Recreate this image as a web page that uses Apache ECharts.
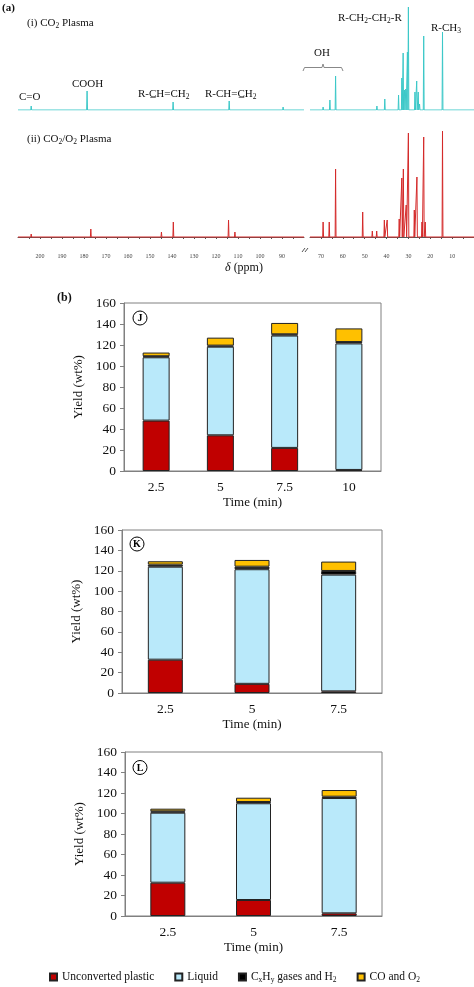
<!DOCTYPE html>
<html><head><meta charset="utf-8">
<script src="https://cdn.jsdelivr.net/npm/echarts@6/dist/echarts.min.js"></script>
<style>html,body{margin:0;padding:0;background:#fff}#c{width:474px;height:987px}</style>
</head><body><div id="c"></div>
<script>
// ---- (a) 13C NMR peaks: [ppm, relative intensity] ----
const spectrumI = [[204,4],[178.6,19],[139.5,8],[114,9],[89.5,3],[69,3],[65.9,10],[63.3,34],[44.4,4],[40.8,11],[34.5,15],[33.0,32],[32.4,57],[31.8,20],[31.2,21],[30.45,58],[30.0,103],[27.0,18],[26.2,29],[25.5,18],[24.9,6],[23.0,74],[14.4,78]];
const spectrumII = [[204,3],[176.9,8],[144.8,5],[139.4,15],[114.3,17],[111.4,5],[69,15],[66.2,15],[63.3,68],[50.9,25],[46.5,6],[44.5,6],[41,17],[39.7,17],[34.2,18],[33.0,59],[32.3,68],[31,32],[30.0,104],[27.3,27],[26.1,60],[23.8,15],[23.0,100],[22.3,15],[14.4,106]];
const ppmLeft = [80, 210];
const ppmRight = [0, 75];

// ---- (b) yields (wt%) ----
const timesJ = ['2.5','5','7.5','10'];
const J_unconverted = [48, 34, 22, 1];
const J_liquid = [60.3, 84.4, 107, 120.5];
const J_gas = [1, 1, 1.2, 1.3];
const J_co = [3.5, 7.6, 10.8, 13];

const timesK = ['2.5','5','7.5'];
const K_unconverted = [32.7, 9, 1.6];
const K_liquid = [91.3, 112.5, 114.6];
const K_gas = [2, 2.5, 3.6];
const K_co = [3.3, 6.6, 9.2];

const timesL = ['2.5','5','7.5'];
const L_unconverted = [32.5, 15.6, 2.6];
const L_liquid = [68.3, 94.4, 112.5];
const L_gas = [1.3, 1.2, 1.3];
const L_co = [2.6, 4.2, 6.5];

const seriesNames = ['Unconverted plastic','Liquid','CxHy gases and H2','CO and O2'];
const barColors = ['#C00000','#B9E9FA','#000000','#FFC000'];

const FF = 'Liberation Serif';
function spikes(peaks, lo, hi){
  const d=[[hi,0]];
  peaks.filter(p=>p[0]>lo&&p[0]<hi).sort((a,b)=>b[0]-a[0]).forEach(([x,h])=>{d.push([x+0.2,0],[x,h],[x-0.2,0]);});
  d.push([lo,0]);
  return d;
}

const grids = [
  {left:18, width:286, top:5, height:105},
  {left:310, width:164, top:5, height:105},
  {left:18, width:286, top:125, height:125},
  {left:310, width:164, top:125, height:125},
  {left:124, width:257, top:303, height:168, show:true, borderColor:'#808080', borderWidth:1},
  {left:122, width:260, top:530, height:163, show:true, borderColor:'#808080', borderWidth:1},
  {left:125, width:257, top:752, height:164, show:true, borderColor:'#808080', borderWidth:1}
];
function specX(gi, range, visible){
  const ax = {gridIndex:gi, type:'value', inverse:true, min:range[0], max:range[1], splitLine:{show:false}};
  if(!visible){ ax.show=false; return ax; }
  ax.interval=5;
  ax.axisLine={show:true, lineStyle:{color:'#555', width:1}};
  ax.axisTick={show:true, length:2, lineStyle:{color:'#555'}};
  ax.axisLabel={fontSize:6, color:'#444', margin:3, fontFamily:FF, showMinLabel:false, showMaxLabel:false, formatter:v=>(v%10===0?String(v):'')};
  return ax;
}
const xAxes = [specX(0,ppmLeft,false), specX(1,ppmRight,false), specX(2,ppmLeft,true), specX(3,ppmRight,true)];
const yAxes = [
  {gridIndex:0,type:'value',min:0,max:105,show:false},
  {gridIndex:1,type:'value',min:0,max:105,show:false},
  {gridIndex:2,type:'value',min:-13,max:112,show:false},
  {gridIndex:3,type:'value',min:-13,max:112,show:false}
];
const series = [
  {type:'line', xAxisIndex:0, yAxisIndex:0, data:spikes(spectrumI,ppmLeft[0],ppmLeft[1])},
  {type:'line', xAxisIndex:1, yAxisIndex:1, data:spikes(spectrumI,ppmRight[0],ppmRight[1])},
  {type:'line', xAxisIndex:2, yAxisIndex:2, data:spikes(spectrumII,ppmLeft[0],ppmLeft[1])},
  {type:'line', xAxisIndex:3, yAxisIndex:3, data:spikes(spectrumII,ppmRight[0],ppmRight[1])}
].map((s,i)=>Object.assign(s,{symbol:'none', silent:true, lineStyle:{width:1, color: i<2?'#3cc8c8':'#d42a2a'}}));

const barSets = [
  {times:timesJ, vals:[J_unconverted,J_liquid,J_gas,J_co], bw:27},
  {times:timesK, vals:[K_unconverted,K_liquid,K_gas,K_co], bw:35},
  {times:timesL, vals:[L_unconverted,L_liquid,L_gas,L_co], bw:35}
];
barSets.forEach((b,k)=>{
  const gi = 4+k;
  xAxes.push({gridIndex:gi, type:'category', data:b.times,
    axisLine:{show:true, lineStyle:{color:'#808080'}}, axisTick:{show:false},
    axisLabel:{fontSize:13.5, color:'#111', fontFamily:FF, margin:9},
    name:'Time (min)', nameLocation:'middle', nameGap:25,
    nameTextStyle:{fontSize:13, color:'#111', fontFamily:FF}});
  yAxes.push({gridIndex:gi, type:'value', min:0, max:160, interval:20,
    axisLine:{show:true, lineStyle:{color:'#808080'}},
    axisTick:{show:true, length:4, lineStyle:{color:'#808080'}},
    splitLine:{show:false},
    axisLabel:{fontSize:13.5, color:'#111', fontFamily:FF, margin:8},
    name:'Yield (wt%)', nameLocation:'middle', nameGap:31,
    nameTextStyle:{fontSize:13, color:'#111', fontFamily:FF}});
  b.vals.forEach((v,j)=>{
    series.push({type:'bar', name:seriesNames[j], stack:'s'+k, xAxisIndex:gi, yAxisIndex:gi,
      barWidth:b.bw, data:v, itemStyle:{color:barColors[j], borderColor:'#222', borderWidth:1}});
  });
});

const sub = {fontSize:7.5, fontFamily:FF, verticalAlign:'bottom', padding:[6,0,0,0], fill:'#111'};
function txt(x,y,text,opts){
  return Object.assign({type:'text', x:x, y:y, silent:true, style:Object.assign({text:text, fontFamily:FF, fontSize:11, fill:'#111', verticalAlign:'middle', rich:{s:sub}}, opts||{})});
}
function circ(cx,cy,letter){
  return [
    {type:'circle', shape:{cx:cx, cy:cy, r:7}, style:{fill:'#fff', stroke:'#000', lineWidth:1}, silent:true},
    {type:'text', x:cx, y:cy+0.5, silent:true, style:{text:letter, fontFamily:FF, fontSize:10, fontWeight:'bold', fill:'#000', align:'center', verticalAlign:'middle'}}
  ];
}
const graphics = [
  txt(2,8,'(a)',{fontWeight:'bold'}),
  txt(27,23,'(i) CO{s|2} Plasma'),
  txt(19,97,'C=O'),
  txt(72,84,'COOH'),
  txt(138,94,'R-C\u0332H=CH{s|2}'),
  txt(205,94,'R-CH=C\u0332H{s|2}'),
  txt(314,53,'OH'),
  txt(338,18,'R-CH{s|2}-CH{s|2}-R'),
  txt(431,28,'R-CH{s|3}'),
  txt(27,139,'(ii) CO{s|2}/O{s|2} Plasma'),
  txt(244,268,'{i|δ} (ppm)',{fontSize:12, align:'center', rich:{i:{fontStyle:'italic', fontFamily:FF, fontSize:12, fill:'#111'}}}),
  txt(57,298,'(b)',{fontWeight:'bold', fontSize:12}),
  {type:'polyline', silent:true, shape:{points:[[303,71],[304.5,67.5],[322,67.5],[323,64],[324,67.5],[341.5,67.5],[343,71]]}, style:{stroke:'#888', fill:null, lineWidth:1}},
  {type:'line', silent:true, shape:{x1:302,y1:252,x2:305,y2:248}, style:{stroke:'#555', lineWidth:1}},
  {type:'line', silent:true, shape:{x1:305,y1:252,x2:308,y2:248}, style:{stroke:'#555', lineWidth:1}}
].concat(circ(140,318,'J'), circ(137,544,'K'), circ(140,767.5,'L'));

const legendMap = {
  'Unconverted plastic':'Unconverted plastic',
  'Liquid':'Liquid',
  'CxHy gases and H2':'C{s|x}H{s|y} gases and H{s|2}',
  'CO and O2':'CO and O{s|2}'
};

const chart = echarts.init(document.getElementById('c'), null, {renderer:'canvas'});
chart.setOption({
  animation:false,
  backgroundColor:'#fff',
  grid:grids, xAxis:xAxes, yAxis:yAxes, series:series,
  legend:{data:seriesNames, left:49, top:971, padding:0, itemWidth:7, itemHeight:7, itemGap:20, icon:'rect',
    textStyle:{fontFamily:FF, fontSize:11.5, color:'#111', rich:{s:{fontSize:7.5, fontFamily:FF, verticalAlign:'bottom', padding:[6,0,0,0], color:'#111'}}},
    formatter:n=>legendMap[n]},
  graphic:graphics
});
</script></body></html>
